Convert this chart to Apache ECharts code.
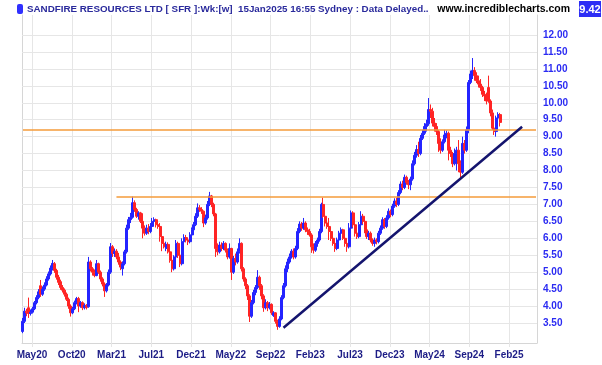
<!DOCTYPE html>
<html><head><meta charset="utf-8">
<script src="https://cdn.jsdelivr.net/npm/echarts@6/dist/echarts.min.js"></script>
<style>html,body{margin:0;padding:0;background:#fff}#c{width:602px;height:365px}</style>
</head><body><div id="c"></div>
<script>
// ---- data ----
const totalWeeks = 259; // weekly slots across the axis (last ones are empty future weeks)
const tickLabels = ['May20','Oct20','Mar21','Jul21','Dec21','May22','Sep22','Feb23','Jul23','Dec23','May24','Sep24','Feb25'];
const priceTickMin = 3.5, priceTickMax = 12, priceTickStep = 0.5;
const priceMin = 2.91, priceMax = 12.59;
// weekly candles: [open, close, low, high]
const weeklyOHLC = [
[3.25,3.55,3.20,3.65],[3.55,3.85,3.50,3.95],[3.85,3.80,3.70,3.92],[3.95,3.78,3.65,4.25],[3.78,3.82,3.72,3.90],
[3.82,3.92,3.78,3.98],[3.92,4.10,3.88,4.15],[4.10,4.25,4.05,4.32],[4.25,4.42,4.20,4.50],[4.60,4.35,4.27,4.77],
[4.35,4.50,4.30,4.58],[4.50,4.62,4.45,4.70],[4.62,4.80,4.58,4.88],[4.80,4.95,4.75,5.02],[4.95,5.12,4.90,5.20],
[5.12,5.26,5.05,5.36],[5.25,5.05,4.98,5.30],[5.05,4.85,4.78,5.10],[4.85,4.70,4.62,4.92],[4.72,4.55,4.48,4.78],
[4.55,4.47,4.40,4.62],[4.47,4.35,4.28,4.52],[4.35,4.20,4.15,4.40],[4.20,4.00,3.92,4.25],[4.00,3.80,3.69,4.05],
[3.80,3.92,3.76,3.98],[3.92,4.10,3.88,4.16],[4.10,4.22,4.05,4.27],[4.22,4.00,3.82,4.27],[4.00,4.10,3.95,4.15],
[4.10,3.95,3.88,4.14],[3.95,4.02,3.90,4.08],[4.02,3.96,3.90,4.06],[3.98,5.30,3.95,5.45],[5.30,5.10,5.02,5.35],
[5.10,5.00,4.90,5.15],[5.00,4.90,4.85,5.08],[4.90,5.25,4.88,5.36],[5.25,5.00,4.95,5.28],[5.00,4.80,4.72,5.05],
[4.80,4.65,4.58,4.85],[4.65,4.45,4.27,4.70],[4.45,4.62,4.40,4.68],[4.62,5.00,4.58,5.08],[5.00,5.75,4.95,5.86],
[5.75,5.55,5.45,5.80],[5.55,5.62,5.45,5.70],[5.62,5.45,5.38,5.68],[5.45,5.30,5.22,5.57],[5.30,5.15,5.06,5.35],
[5.10,5.25,4.90,5.32],[5.25,5.60,5.20,5.66],[5.60,6.30,5.55,6.40],[6.30,6.55,6.25,6.63],[6.55,6.62,6.45,6.75],
[6.62,7.05,6.58,7.23],[7.05,6.85,6.78,7.12],[6.85,6.65,6.60,6.90],[6.65,6.75,6.55,6.80],[6.75,6.50,6.45,6.78],
[6.50,6.30,6.00,6.74],[6.30,6.15,6.08,6.38],[6.15,6.30,6.10,6.40],[6.30,6.20,6.12,6.42],[6.20,6.35,6.15,6.45],
[6.35,6.50,6.30,6.60],[6.50,6.55,6.40,6.62],[6.55,6.40,6.32,6.58],[6.40,6.35,6.28,6.50],[6.35,6.05,5.90,6.45],
[6.05,5.85,5.62,6.20],[5.85,5.75,5.70,5.95],[5.70,5.82,5.62,5.90],[5.82,5.60,5.55,5.88],[5.60,5.35,5.28,5.65],
[5.35,5.10,5.00,5.40],[5.10,5.45,5.05,5.50],[5.45,5.85,5.40,5.95],[5.85,5.50,5.42,5.90],[5.50,5.25,5.15,5.55],
[5.25,5.90,5.20,6.00],[5.90,6.02,5.85,6.12],[6.02,5.95,5.88,6.10],[5.95,5.90,5.80,6.00],[5.90,6.10,5.85,6.18],
[6.10,6.25,6.05,6.32],[6.25,6.40,6.20,6.48],[6.40,6.65,6.36,6.74],[6.65,6.90,6.60,7.03],[6.90,6.85,6.78,6.98],
[6.85,6.80,6.72,6.92],[6.80,6.45,6.33,6.82],[6.45,6.60,6.40,6.70],[6.60,7.00,6.55,7.10],[7.00,7.25,6.95,7.37],
[7.25,7.00,6.92,7.28],[7.00,6.72,6.65,7.05],[6.72,5.70,5.45,6.75],[5.70,5.60,5.50,5.85],[5.60,5.80,5.55,5.90],
[5.80,5.70,5.62,5.88],[5.70,5.85,5.65,5.92],[5.85,5.65,5.58,5.88],[5.65,5.45,5.38,5.70],[5.45,5.70,5.40,5.85],
[5.70,5.00,4.77,5.72],[5.00,5.40,4.95,5.48],[5.40,5.30,5.20,5.55],[5.30,5.60,5.25,5.70],[5.60,5.85,5.55,6.00],
[5.85,5.10,5.02,5.88],[5.10,4.80,4.72,5.15],[4.80,4.60,4.50,4.85],[4.60,4.30,4.18,4.65],[4.30,3.70,3.53,4.35],
[3.70,4.10,3.65,4.18],[4.10,4.40,4.05,4.48],[4.40,4.55,4.32,4.62],[4.55,4.85,4.50,5.06],[4.85,4.60,4.48,4.90],
[4.60,4.30,4.20,4.65],[4.30,3.95,3.83,4.35],[3.95,4.10,3.90,4.20],[4.10,3.95,3.85,4.15],[3.95,4.05,3.90,4.12],
[4.05,3.80,3.74,4.08],[3.72,3.80,3.68,3.85],[3.80,3.55,3.48,3.82],[3.55,3.40,3.30,3.60],[3.40,3.62,3.36,3.70],
[3.62,4.25,3.58,4.32],[4.25,4.60,4.20,4.68],[4.60,5.10,4.55,5.20],[5.10,5.30,5.00,5.40],[5.30,5.45,5.25,5.55],
[5.45,5.62,5.40,5.68],[5.62,5.45,5.38,5.70],[5.45,5.70,5.40,5.78],[5.70,6.20,5.65,6.30],[6.20,6.42,6.15,6.50],
[6.42,6.30,6.22,6.48],[6.30,6.45,6.25,6.60],[6.45,6.25,6.18,6.50],[6.25,6.20,6.10,6.32],[6.20,6.10,6.05,6.28],
[6.10,5.75,5.57,6.15],[5.75,5.65,5.55,5.85],[5.65,5.85,5.60,5.92],[5.85,5.95,5.75,6.02],[5.95,6.20,5.90,6.28],
[6.20,7.00,6.15,7.05],[7.00,6.65,6.60,7.20],[6.65,6.45,6.35,6.70],[6.45,6.35,6.28,6.55],[6.35,6.20,5.95,6.60],
[6.20,6.00,5.92,6.25],[6.00,5.85,5.78,6.05],[5.85,5.70,5.60,5.92],[5.70,5.95,5.65,6.02],[5.95,6.15,5.90,6.22],
[6.15,6.25,6.05,6.32],[6.25,6.00,5.95,6.28],[6.00,5.85,5.75,6.05],[5.85,5.75,5.60,5.90],[5.75,6.30,5.70,6.45],
[6.30,6.75,6.25,6.82],[6.75,6.40,6.32,6.80],[6.40,6.15,6.05,6.45],[6.15,6.05,5.98,6.20],[6.05,6.40,6.00,6.48],
[6.40,6.65,6.35,6.80],[6.65,6.50,6.42,6.72],[6.50,6.25,6.15,6.55],[6.25,6.05,5.98,6.30],[6.05,6.15,5.95,6.22],
[6.15,5.95,5.88,6.20],[5.95,5.85,5.78,6.00],[5.85,5.95,5.75,6.02],[5.95,5.90,5.82,6.00],[5.90,6.15,5.85,6.22],
[6.15,6.30,6.10,6.38],[6.30,6.55,6.25,6.62],[6.55,6.35,6.28,6.60],[6.35,6.60,6.30,6.68],[6.60,6.80,6.55,6.88],
[6.80,6.70,6.62,6.85],[6.70,6.95,6.65,7.02],[6.95,7.10,6.90,7.18],[7.10,7.00,6.92,7.20],[7.00,7.35,6.95,7.42],
[7.35,7.60,7.30,7.68],[7.60,7.50,7.42,7.70],[7.50,7.80,7.45,7.88],[7.80,7.65,7.58,7.85],[7.65,7.58,7.45,7.72],
[7.58,7.75,7.42,7.82],[7.75,8.20,7.70,8.30],[8.20,8.45,8.15,8.55],[8.45,8.62,8.38,8.75],[8.62,8.50,8.40,8.85],
[8.50,8.95,8.45,9.05],[8.95,9.10,8.90,9.20],[9.10,9.30,9.05,9.40],[9.30,9.38,9.15,9.50],[9.38,9.80,9.32,10.14],
[9.80,9.75,9.55,9.95],[9.75,9.40,9.30,9.85],[9.40,9.30,9.15,9.55],[9.30,9.15,9.05,9.40],[9.15,8.80,8.55,9.20],
[8.80,8.60,8.50,8.95],[8.60,8.85,8.55,8.92],[8.85,9.05,8.80,9.20],[9.05,9.10,8.95,9.18],[9.10,8.60,8.30,9.15],
[8.60,8.50,8.40,8.70],[8.50,8.20,8.10,8.55],[8.20,8.50,8.15,8.65],[8.50,8.60,8.00,8.70],[8.60,8.20,7.95,8.90],
[8.20,7.95,7.80,8.30],[7.95,8.80,7.90,9.00],[8.80,8.60,8.50,8.90],[8.60,9.20,8.55,9.30],[9.20,10.60,9.10,10.67],
[10.60,10.85,10.55,10.95],[10.85,10.95,10.70,11.32],[10.95,10.80,10.65,11.05],[10.80,10.65,10.58,10.90],[10.65,10.55,10.45,10.80],
[10.55,10.45,10.35,10.70],[10.45,10.25,10.17,10.50],[10.25,10.20,10.05,10.35],[10.20,10.05,9.95,10.30],[10.45,10.05,10.00,10.80],
[10.05,9.70,9.60,10.10],[9.70,9.25,9.20,9.80],[9.25,9.15,9.05,9.40],[9.15,9.55,9.00,9.62],[9.55,9.65,9.40,9.72],
[9.65,9.42,9.30,9.70]
];
const resistanceLevels = [9.20, 7.23];
const resistanceStartWeek = [0, 47];
const trendStart = [131, 3.36];
const trendEnd = [251, 9.29];
const lastPrice = '9.42';
const titleText = 'SANDFIRE RESOURCES LTD [ SFR ]:Wk:[w]  15Jan2025 16:55 Sydney : Data Delayed..';
const siteText = 'www.incrediblecharts.com';

// ---- chart ----
const weekIds = [];
for (let i = 0; i < totalWeeks; i++) weekIds.push('W' + i);
const lastWeek = totalWeeks - 1;
const gridColor = '#e6e6e6';
const frameColor = '#d6d6d6';
const orange = '#f59b3a';

const chart = echarts.init(document.getElementById('c'), null, {renderer: 'canvas'});
chart.setOption({
  animation: false,
  backgroundColor: '#ffffff',
  grid: [
    {left: 22, right: 65, top: 15, bottom: 22, outerBoundsMode: 'none', containLabel: false},
    {left: 22, right: 65, top: 35, bottom: 42, outerBoundsMode: 'none', containLabel: false},
    {left: 32, right: 93, top: 15, bottom: 22, outerBoundsMode: 'none', containLabel: false}
  ],
  xAxis: [
    {gridIndex: 0, type: 'category', data: weekIds, boundaryGap: true,
     axisLine: {show: true, lineStyle: {color: frameColor, width: 1}},
     axisTick: {show: false}, axisLabel: {show: false}, splitLine: {show: false}},
    {gridIndex: 1, type: 'value', min: 0, max: 1, show: false},
    {gridIndex: 2, type: 'value', min: 0, max: tickLabels.length - 1, interval: 1,
     axisLine: {show: false},
     axisTick: {show: true, length: 4, lineStyle: {color: gridColor}},
     splitLine: {show: true, lineStyle: {color: gridColor, width: 1}},
     axisLabel: {show: true, margin: 7, color: '#1c1c86', fontWeight: 'bold', fontSize: 10,
       fontFamily: 'Liberation Sans, Arial, sans-serif',
       formatter: v => tickLabels[Math.round(v)] || ''}}
  ],
  yAxis: [
    {gridIndex: 0, type: 'value', min: priceMin, max: priceMax, position: 'left',
     axisLine: {show: true, lineStyle: {color: frameColor}}, axisTick: {show: false},
     axisLabel: {show: false}, splitLine: {show: false}},
    {gridIndex: 0, type: 'value', min: priceMin, max: priceMax, position: 'right',
     axisLine: {show: true, lineStyle: {color: frameColor}}, axisTick: {show: false},
     axisLabel: {show: false}, splitLine: {show: false}},
    {gridIndex: 1, type: 'value', min: priceTickMin, max: priceTickMax, interval: priceTickStep, position: 'right',
     axisLine: {show: false},
     axisTick: {show: true, length: 4, lineStyle: {color: gridColor}},
     splitLine: {show: true, lineStyle: {color: gridColor, width: 1}},
     axisLabel: {show: true, margin: 6, color: '#2b2bf2', fontWeight: 'bold', fontSize: 10,
       fontFamily: 'Liberation Sans, Arial, sans-serif',
       formatter: v => v.toFixed(2)}},
    {gridIndex: 2, type: 'value', min: 0, max: 1, show: false}
  ],
  series: [
    {type: 'candlestick', xAxisIndex: 0, yAxisIndex: 0, data: weeklyOHLC, barWidth: 2.5,
     itemStyle: {color: '#2424ff', color0: '#ff2424', borderColor: '#2424ff', borderColor0: '#ff2424', borderWidth: 1},
     markLine: {silent: true, symbol: ['none', 'none'], label: {show: false},
       data: [
         [{coord: [resistanceStartWeek[0], resistanceLevels[0]], lineStyle: {color: orange, width: 1.5, type: 'solid'}},
          {coord: [lastWeek, resistanceLevels[0]]}],
         [{coord: [resistanceStartWeek[1], resistanceLevels[1]], lineStyle: {color: orange, width: 1.5, type: 'solid'}},
          {coord: [lastWeek, resistanceLevels[1]]}],
         [{coord: trendStart, lineStyle: {color: '#14146e', width: 2.5, type: 'solid'}},
          {coord: trendEnd}]
       ]}}
  ],
  graphic: [
    {type: 'rect', shape: {x: 17, y: 4, width: 6, height: 10, r: 2}, style: {fill: '#3030ff'}},
    {type: 'text', x: 27, y: 9, style: {text: titleText, fill: '#2a2a9c', verticalAlign: 'middle', align: 'left',
      font: 'bold 9.8px "Liberation Sans", Arial, sans-serif'}},
    {type: 'text', x: 570, y: 9, style: {text: siteText, fill: '#000000', verticalAlign: 'middle', align: 'right',
      font: 'bold 10.5px "Liberation Sans", Arial, sans-serif'}},
    {type: 'rect', shape: {x: 579, y: 1, width: 22, height: 16}, style: {fill: '#2d2df5'}},
    {type: 'text', x: 590, y: 9.5, style: {text: lastPrice, fill: '#ffffff', verticalAlign: 'middle', align: 'center',
      font: 'bold 11px "Liberation Sans", Arial, sans-serif'}}
  ]
});
</script></body></html>
